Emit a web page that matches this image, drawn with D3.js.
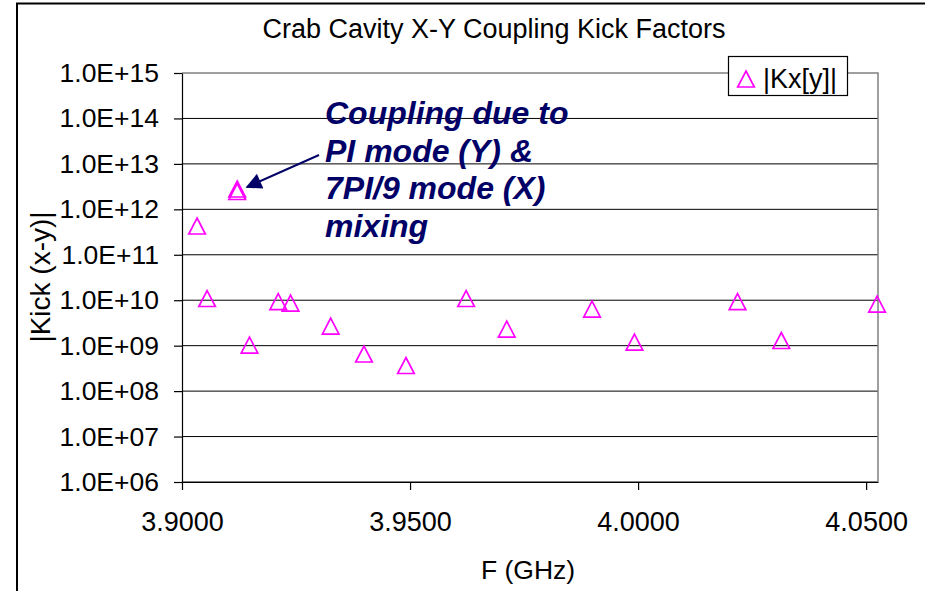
<!DOCTYPE html>
<html>
<head>
<meta charset="utf-8">
<script src="https://cdn.jsdelivr.net/npm/d3@7"></script>
<style>
  html, body { margin: 0; padding: 0; background: #fff; }
  svg { display: block; }
  text { font-family: "Liberation Sans", Arial, sans-serif; fill: #000; }
</style>
</head>
<body>
<svg id="chart" width="925" height="591"></svg>
<script>
// Crab cavity x-y coupling kick factors versus mode frequency
const freqGHz = [3.9033, 3.9055, 3.9121, 3.9121, 3.9148, 3.9211, 3.9238, 3.9326, 3.9399,
                 3.9491, 3.9623, 3.9712, 3.9899, 3.9992, 4.0218, 4.0314, 4.0524];
const kickXY  = [4.3e11, 1.09e10, 2.8e12, 2.47e12, 1.03e9, 9.35e9, 8.67e9, 2.7e9, 6.55e8,
                 3.66e8, 1.09e10, 2.32e9, 6.4e9, 1.2e9, 9.35e9, 1.3e9, 8.24e9];
const xTicks = [3.90, 3.95, 4.00, 4.05];
const yTicks = [1e6, 1e7, 1e8, 1e9, 1e10, 1e11, 1e12, 1e13, 1e14, 1e15];
const seriesName = "|Kx[y]|";
const noteLines = ["Coupling due to", "PI mode (Y) &", "7PI/9 mode (X)", "mixing"];

const svg = d3.select("#chart");
const plot = { left: 182, right: 878, top: 73, bottom: 482 };

const x = d3.scaleLinear().domain([3.9, 4.0526]).range([plot.left, plot.right]);
const y = d3.scaleLog().domain([1e6, 1e15]).range([plot.bottom, plot.top]);

// outer chart frame
svg.append("rect")
  .attr("x", 17).attr("y", 3.5).attr("width", 1000).attr("height", 700)
  .attr("fill", "#fff").attr("stroke", "#000").attr("stroke-width", 2);

// title
svg.append("text")
  .attr("x", 494).attr("y", 38)
  .attr("text-anchor", "middle")
  .attr("font-size", 27)
  .text("Crab Cavity X-Y Coupling Kick Factors");

// horizontal gridlines
svg.append("g").selectAll("line")
  .data(yTicks.slice(0, -1))
  .join("line")
  .attr("x1", plot.left).attr("x2", plot.right)
  .attr("y1", d => y(d)).attr("y2", d => y(d))
  .attr("stroke", "#000").attr("stroke-width", 1);

// plot-area border (top and right)
svg.append("path")
  .attr("d", `M${plot.left},${plot.top}H${plot.right}V${plot.bottom}`)
  .attr("fill", "none").attr("stroke", "#808080").attr("stroke-width", 1.5);

// y axis
const expFmt = v => {
  const e = Math.round(Math.log10(v));
  return "1.0E+" + (e < 10 ? "0" + e : e);
};
const yAxis = svg.append("g")
  .attr("transform", `translate(${plot.left},0)`)
  .call(d3.axisLeft(y).tickValues(yTicks).tickFormat(expFmt).tickSize(8).tickSizeOuter(0).tickPadding(15));
yAxis.selectAll("text").attr("font-size", 26.5).attr("font-family", "Liberation Sans, Arial, sans-serif").attr("fill", "#000");
yAxis.selectAll("line, path").attr("stroke", "#000").attr("stroke-width", 1.2);

// x axis
const xAxis = svg.append("g")
  .attr("transform", `translate(0,${plot.bottom})`)
  .call(d3.axisBottom(x).tickValues(xTicks).tickFormat(d3.format(".4f")).tickSize(8).tickSizeOuter(0).tickPadding(22));
xAxis.selectAll("text").attr("font-size", 27).attr("font-family", "Liberation Sans, Arial, sans-serif").attr("fill", "#000");
xAxis.selectAll("line, path").attr("stroke", "#000").attr("stroke-width", 1.2);

// axis titles
svg.append("text")
  .attr("x", 528).attr("y", 579)
  .attr("text-anchor", "middle")
  .attr("font-size", 26.5)
  .text("F (GHz)");

svg.append("text")
  .attr("transform", "translate(50,277) rotate(-90)")
  .attr("text-anchor", "middle")
  .attr("font-size", 28)
  .text("|Kick (x-y)|");

// open triangle markers
const tri = "M0,-8L8.3,8L-8.3,8Z";
const points = freqGHz.map((f, i) => ({ f, k: kickXY[i] }));
svg.append("g").selectAll("path")
  .data(points)
  .join("path")
  .attr("d", tri)
  .attr("transform", d => `translate(${x(d.f)},${y(d.k)})`)
  .attr("fill", "none")
  .attr("stroke", "#ff00ff")
  .attr("stroke-width", 1.7);

// legend
const legend = svg.append("g").attr("transform", "translate(728,56)");
legend.append("rect")
  .attr("x", 0.5).attr("y", 0.5).attr("width", 119).attr("height", 39)
  .attr("fill", "#fff").attr("stroke", "#000").attr("stroke-width", 1.2);
legend.append("path")
  .attr("d", tri)
  .attr("transform", "translate(18,23)")
  .attr("fill", "none").attr("stroke", "#ff00ff").attr("stroke-width", 1.7);
legend.append("text")
  .attr("x", 35).attr("y", 32)
  .attr("font-size", 27)
  .text(seriesName);

// annotation with arrow
const navy = "#000066";
const defs = svg.append("defs");
defs.append("marker")
  .attr("id", "arrowHead")
  .attr("viewBox", "0 0 10 10")
  .attr("refX", 9).attr("refY", 5)
  .attr("markerWidth", 9).attr("markerHeight", 8)
  .attr("markerUnits", "strokeWidth")
  .attr("orient", "auto")
  .append("path")
  .attr("d", "M0,0L10,5L0,10Z")
  .attr("fill", navy);

svg.append("line")
  .attr("x1", 319).attr("y1", 155)
  .attr("x2", 247).attr("y2", 187)
  .attr("stroke", navy).attr("stroke-width", 2)
  .attr("marker-end", "url(#arrowHead)");

svg.append("g").selectAll("text")
  .data(noteLines)
  .join("text")
  .attr("x", 325)
  .attr("y", (d, i) => 124 + i * 37.5)
  .attr("font-size", 32)
  .attr("font-weight", "bold")
  .attr("font-style", "italic")
  .style("fill", navy)
  .text(d => d);
</script>
</body>
</html>
